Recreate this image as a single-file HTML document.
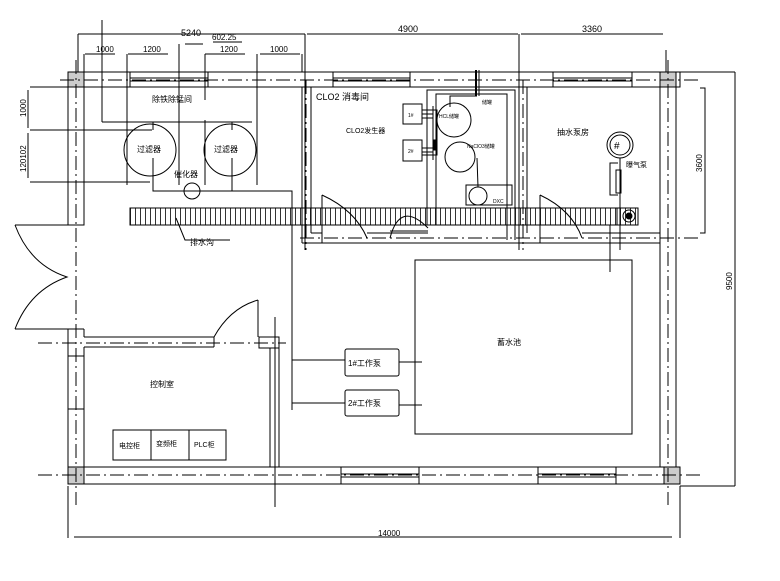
<!DOCTYPE html>
<html><head><meta charset="utf-8"><style>
html,body{margin:0;padding:0;background:#fff;}
svg{display:block;}
text{font-family:"Liberation Sans","Noto Sans CJK SC",sans-serif;fill:#000;}
</style></head><body>
<svg width="780" height="581" viewBox="0 0 780 581" xmlns="http://www.w3.org/2000/svg">
<defs>
<pattern id="hatch" width="5" height="20" patternUnits="userSpaceOnUse">
<line x1="0.5" y1="0" x2="0.5" y2="20" stroke="#000" stroke-width="0.8"/>
</pattern>
</defs>
<g fill="none" stroke="#000" stroke-width="1">
<!-- top dimension lines -->
<line x1="78" y1="34" x2="305" y2="34"/>
<line x1="307" y1="34" x2="518" y2="34"/>
<line x1="521" y1="34" x2="663" y2="34"/>
<line x1="78" y1="34" x2="78" y2="72"/>
<line x1="305" y1="34" x2="305" y2="250"/>
<line x1="519" y1="34" x2="519" y2="250"/>
<line x1="666" y1="50" x2="666" y2="72"/>
<line x1="102" y1="20" x2="102" y2="122"/>
<line x1="85" y1="54" x2="115" y2="54"/><line x1="128" y1="54" x2="168" y2="54"/>
<line x1="205" y1="54" x2="245" y2="54"/><line x1="260" y1="54" x2="300" y2="54"/>
<line x1="185" y1="44" x2="203" y2="44"/><line x1="213" y1="42" x2="242" y2="42"/>
<line x1="84" y1="54" x2="84" y2="72"/>
<line x1="127" y1="54" x2="127" y2="185"/>
<line x1="179" y1="44" x2="179" y2="185"/>
<line x1="205" y1="54" x2="205" y2="100"/>
<line x1="205" y1="120" x2="205" y2="185"/>
<line x1="257" y1="54" x2="257" y2="185"/>
<line x1="302" y1="54" x2="302" y2="72"/>
<!-- left dims -->
<line x1="30" y1="87" x2="80" y2="87"/>
<line x1="30" y1="130" x2="152" y2="130"/>
<line x1="30" y1="182" x2="150" y2="182"/>
<line x1="28" y1="90" x2="28" y2="128"/>
<line x1="28" y1="133" x2="28" y2="178"/>
<!-- pipes from filters -->
<polyline points="102,122 252,122"/>
<line x1="153" y1="122" x2="153" y2="130"/><line x1="232" y1="122" x2="232" y2="130"/>
<polyline points="153,158 153,191 292,191 292,410"/>
<line x1="232" y1="158" x2="232" y2="191"/>
<!-- right dims -->
<polyline points="700,88 705,88 705,233 700,233"/>
<line x1="735" y1="72" x2="735" y2="486"/>
<line x1="680" y1="72" x2="735" y2="72"/>
<line x1="680" y1="486" x2="735" y2="486"/>
<!-- bottom dim -->
<line x1="74" y1="537" x2="672" y2="537"/>
<line x1="68" y1="486" x2="68" y2="538"/>
<line x1="680" y1="486" x2="680" y2="538"/>
<line x1="275" y1="317" x2="275" y2="507"/>
<!-- outer walls -->
<rect x="68" y="72" width="612" height="15"/>
<rect x="68" y="467" width="612" height="17"/>
<polyline points="68,72 68,225 84,225 84,87"/>
<polyline points="68,329 68,484"/><line x1="84" y1="347" x2="84" y2="467"/>
<line x1="68" y1="329" x2="84" y2="329"/><line x1="84" y1="329" x2="84" y2="337"/>
<line x1="68" y1="356" x2="84" y2="356"/><line x1="68" y1="409" x2="84" y2="409"/>
<line x1="660" y1="87" x2="660" y2="467"/>
<line x1="676" y1="87" x2="676" y2="467"/>
<!-- windows top -->
<rect x="130" y="72" width="78" height="15"/><line x1="130" y1="78" x2="208" y2="78"/><line x1="130" y1="81" x2="208" y2="81"/>
<rect x="333" y="72" width="77" height="15"/><line x1="333" y1="78" x2="410" y2="78"/><line x1="333" y1="81" x2="410" y2="81"/>
<rect x="553" y="72" width="79" height="15"/><line x1="553" y1="78" x2="632" y2="78"/><line x1="553" y1="81" x2="632" y2="81"/>
<!-- windows bottom -->
<rect x="341" y="467" width="78" height="17"/><line x1="341" y1="474" x2="419" y2="474"/><line x1="341" y1="477" x2="419" y2="477"/>
<rect x="538" y="467" width="78" height="17"/><line x1="538" y1="474" x2="616" y2="474"/><line x1="538" y1="477" x2="616" y2="477"/>
<!-- left door -->
<line x1="15" y1="225" x2="68" y2="225"/><line x1="15" y1="329" x2="68" y2="329"/>
<path d="M15,225 Q30,265 67,277 Q30,290 15,329"/>
<!-- interior walls top rooms -->
<line x1="302" y1="87" x2="302" y2="243"/><line x1="311" y1="87" x2="311" y2="233"/>
<line x1="311" y1="233" x2="322" y2="233"/>
<line x1="302" y1="243" x2="660" y2="243"/>
<line x1="367" y1="233" x2="428" y2="233"/>
<line x1="519" y1="87" x2="519" y2="243"/><line x1="527" y1="87" x2="527" y2="233"/>
<line x1="582" y1="233" x2="660" y2="233"/>
<!-- doors top -->
<line x1="322" y1="195" x2="322" y2="243"/><path d="M322,195 Q355,210 367,238"/>
<path d="M428,228 Q400,200 390,238" /><line x1="390" y1="231" x2="428" y2="231"/>
<line x1="540" y1="195" x2="540" y2="243"/><path d="M540,195 Q572,210 582,238"/>
<!-- inner CLO2 box -->
<polyline points="427,225 427,90 515,90 515,240"/>
<polyline points="436,225 436,94 507,94 507,240"/>
<!-- trench -->
<rect x="130" y="208" width="508" height="17" fill="url(#hatch)"/>
<rect x="617" y="208" width="21" height="17"/>
<circle cx="629" cy="216" r="6"/><circle cx="629" cy="216" r="3" fill="#000"/>
<polyline points="176,218 185,240 230,240"/>
<!-- filters -->
<circle cx="150" cy="150" r="26"/>
<circle cx="230" cy="150" r="26"/>
<circle cx="192" cy="191" r="8"/>
<!-- CLO2 equipment -->
<rect x="403" y="104" width="19" height="20"/>
<rect x="403" y="140" width="19" height="21"/>
<circle cx="454" cy="120" r="17"/>
<circle cx="460" cy="157" r="15"/>
<polyline points="422,110 437,110 437,155 422,155"/>
<line x1="422" y1="114" x2="433" y2="114"/><line x1="422" y1="118" x2="433" y2="118"/>
<line x1="422" y1="148" x2="433" y2="148"/><line x1="422" y1="152" x2="433" y2="152"/>
<line x1="433" y1="106" x2="433" y2="160"/>
<rect x="434" y="140" width="3" height="10" fill="#000"/>
<polyline points="450,107 450,96 477,96"/>
<line x1="476" y1="70" x2="476" y2="96" stroke-width="2"/>
<line x1="479" y1="70" x2="479" y2="96"/>
<rect x="466" y="185" width="46" height="20"/>
<circle cx="478" cy="196" r="9"/>
<polyline points="477,158 478,187"/>
<!-- pump room -->
<circle cx="620" cy="145" r="13"/><circle cx="620" cy="145" r="10"/>
<polyline points="620,158 620,250"/><line x1="610" y1="225" x2="610" y2="272"/>
<polyline points="618,163 610,163 610,195 618,195"/>
<rect x="616" y="170" width="5" height="23"/>
<!-- control room -->
<line x1="84" y1="337" x2="214" y2="337"/><line x1="84" y1="347" x2="214" y2="347"/>
<line x1="214" y1="337" x2="214" y2="347"/>
<line x1="258" y1="300" x2="258" y2="337"/><path d="M214,337 Q230,308 258,300"/>
<rect x="259" y="337" width="20" height="11"/>
<line x1="270" y1="348" x2="270" y2="467"/><line x1="279" y1="348" x2="279" y2="467"/>
<line x1="281" y1="467" x2="281" y2="467"/>
<rect x="113" y="430" width="113" height="30"/>
<line x1="151" y1="430" x2="151" y2="460"/><line x1="189" y1="430" x2="189" y2="460"/>
<!-- pumps & pool -->
<line x1="292" y1="360" x2="345" y2="360"/>
<line x1="292" y1="403" x2="345" y2="403"/>
<rect x="345" y="349" width="54" height="27" rx="2"/>
<rect x="345" y="390" width="54" height="26" rx="2"/>
<line x1="399" y1="362" x2="422" y2="362"/><line x1="399" y1="405" x2="422" y2="405"/>
<rect x="415" y="260" width="217" height="174"/>
</g>
<!-- gray columns -->
<g fill="#ccc" stroke="#000" stroke-width="1">
<rect x="68" y="72" width="16" height="15"/>
<rect x="660" y="72" width="16" height="15"/>
<rect x="68" y="467" width="16" height="17"/>
<rect x="664" y="467" width="16" height="17"/>
</g>
<!-- axis dash-dot lines -->
<g fill="none" stroke="#000" stroke-width="1" stroke-dasharray="14,4,2,4">
<line x1="60" y1="80" x2="700" y2="80"/>
<line x1="76" y1="60" x2="76" y2="505"/>
<line x1="668" y1="60" x2="668" y2="505"/>
<line x1="38" y1="475" x2="700" y2="475"/>
<line x1="38" y1="343" x2="286" y2="343"/>
<line x1="306" y1="80" x2="306" y2="250"/>
<line x1="523" y1="80" x2="523" y2="250"/>
<line x1="300" y1="238" x2="700" y2="238"/>
</g>
<!-- text -->
<g font-size="9">
<text x="181" y="36">5240</text>
<text x="398" y="32">4900</text>
<text x="582" y="32">3360</text>
<text x="96" y="52" font-size="8">1000</text>
<text x="143" y="52" font-size="8">1200</text>
<text x="212" y="40" font-size="8">602.25</text>
<text x="220" y="52" font-size="8">1200</text>
<text x="270" y="52" font-size="8">1000</text>
<text x="378" y="536" font-size="8">14000</text>
<text transform="translate(26,117) rotate(-90)" font-size="8">1000</text>
<text transform="translate(26,172) rotate(-90)" font-size="8">120102</text>
<text transform="translate(702,172) rotate(-90)" font-size="8">3600</text>
<text transform="translate(732,290) rotate(-90)" font-size="8">9500</text>
<text x="152" y="102" font-size="8">除铁除锰间</text>
<text x="316" y="100">CLO2 消毒间</text>
<text x="346" y="133" font-size="7">CLO2发生器</text>
<text x="557" y="135" font-size="8">抽水泵房</text>
<text x="626" y="167" font-size="7">曝气泵</text>
<text x="137" y="152" font-size="8">过滤器</text>
<text x="214" y="152" font-size="8">过滤器</text>
<text x="174" y="177" font-size="8">催化器</text>
<text x="190" y="245" font-size="8">排水沟</text>
<text x="150" y="387" font-size="8">控制室</text>
<text x="497" y="345" font-size="8">蓄水池</text>
<text x="348" y="366" font-size="8">1#工作泵</text>
<text x="348" y="406" font-size="8">2#工作泵</text>
<text x="119" y="448" font-size="7">电控柜</text>
<text x="156" y="446" font-size="7">变频柜</text>
<text x="194" y="447" font-size="7">PLC柜</text>
<text x="408" y="117" font-size="5">1#</text>
<text x="408" y="153" font-size="5">2#</text>
<text x="439" y="118" font-size="5">HCL储罐</text>
<text x="467" y="148" font-size="5">NaClO3储罐</text>
<text x="482" y="104" font-size="5">储罐</text>
<text x="493" y="203" font-size="5">DXC</text>
<text x="614" y="149" font-size="10">#</text>
</g>
</svg>
</body></html>
